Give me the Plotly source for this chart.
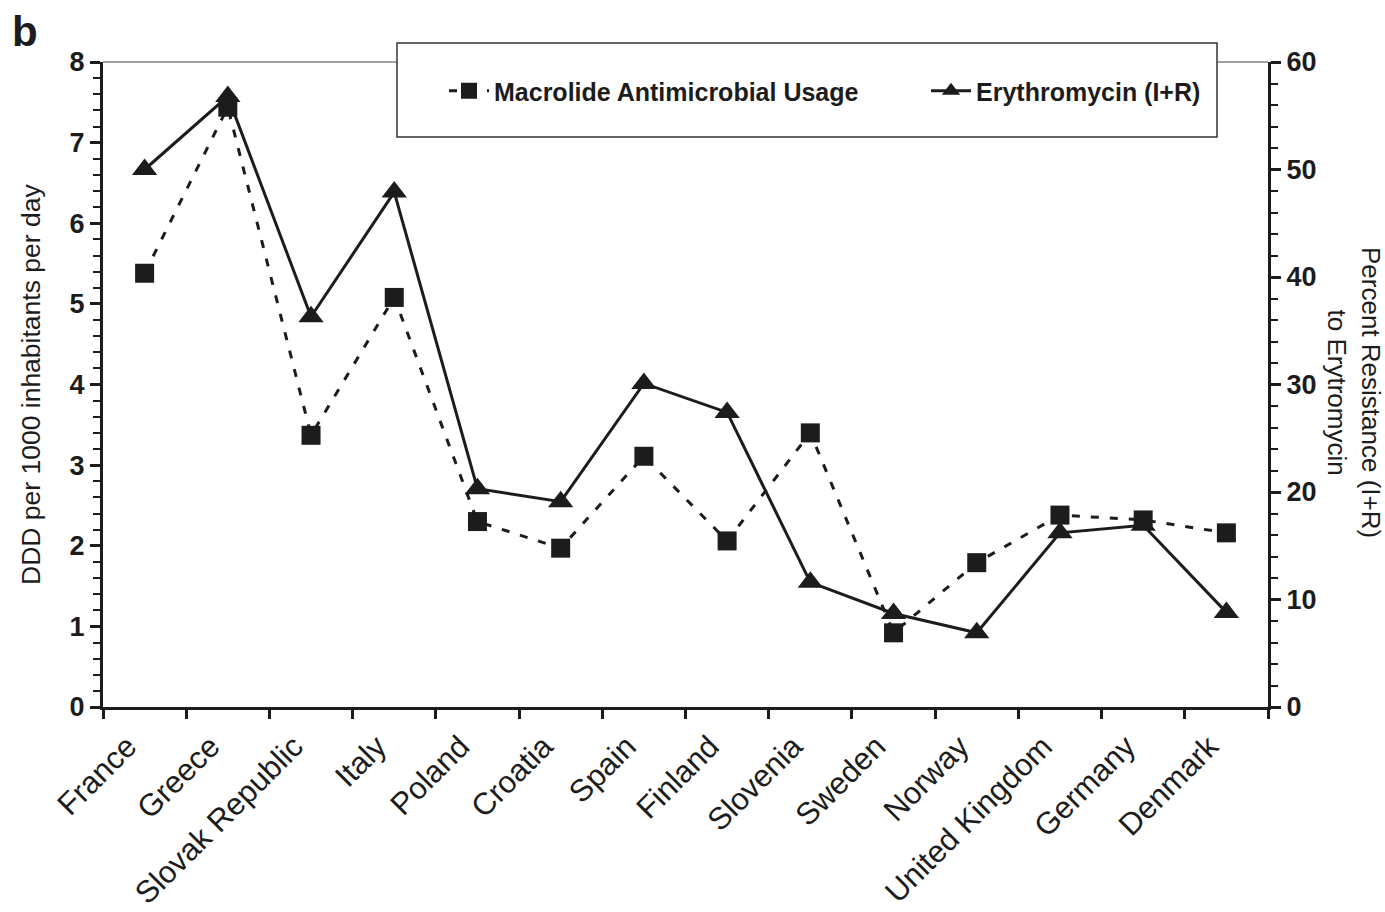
import plotly.graph_objects as go

countries = ["France", "Greece", "Slovak Republic", "Italy", "Poland", "Croatia", "Spain",
             "Finland", "Slovenia", "Sweden", "Norway", "United Kingdom", "Germany", "Denmark"]
macrolide_ddd = [5.38, 7.44, 3.37, 5.08, 2.30, 1.97, 3.11, 2.06, 3.40, 0.92, 1.79, 2.38, 2.32, 2.16]
erythro_resist = [50.0, 56.8, 36.3, 47.9, 20.3, 19.1, 30.1, 27.4, 11.6, 8.7, 6.9, 16.2, 16.9, 8.8]
left_ticks = [0, 1, 2, 3, 4, 5, 6, 7, 8]
right_ticks = [0, 10, 20, 30, 40, 50, 60]

INK = "#1c1c1c"
FONT = "Liberation Sans, Arial, Helvetica, sans-serif"

# plot area in pixels (from reference)
PL, PR, PT, PB = 103, 1268, 62, 707
PW, PH = PR - PL, PB - PT


def px_x(x):
    return (x - PL) / PW


def px_y(y):
    return (PB - y) / PH


fig = go.Figure()
fig.add_trace(go.Scatter(
    x=countries, y=macrolide_ddd, name="Macrolide Antimicrobial Usage",
    mode="lines+markers", yaxis="y", legend="legend",
    line=dict(color=INK, width=3, dash="8px,11px"),
    marker=dict(symbol="square", size=19, color=INK),
))
fig.add_trace(go.Scatter(
    x=countries, y=erythro_resist, name="Erythromycin (I+R)",
    mode="lines+markers", yaxis="y2", legend="legend2",
    line=dict(color=INK, width=3),
    marker=dict(symbol="triangle-up", size=22, color=INK),
))

n = len(countries)
bounds = [i - 0.5 for i in range(n + 1)]

legend_common = dict(
    orientation="h", yanchor="middle", xanchor="left",
    bgcolor="rgba(0,0,0,0)", borderwidth=0,
    font=dict(size=25, family=FONT, color=INK, weight="bold"),
    itemwidth=40,
)

fig.update_layout(
    width=1385, height=912,
    margin=dict(l=PL, r=1385 - PR, t=PT, b=912 - PB, autoexpand=False),
    paper_bgcolor="white", plot_bgcolor="white",
    font=dict(family=FONT, color=INK),
    showlegend=True,
    legend=dict(x=px_x(444), y=px_y(91), **legend_common),
    legend2=dict(x=px_x(926), y=px_y(91), **legend_common),
    xaxis=dict(
        type="category", categoryarray=countries, range=[-0.5, n - 0.5],
        showline=True, linewidth=3, linecolor=INK,
        ticks="outside", tickson="boundaries", ticklen=9, tickwidth=3, tickcolor=INK,
        tickangle=-45, tickfont=dict(size=31, family=FONT, color=INK),
        ticklabelstandoff=6, ticklabelshift=-17,
        showgrid=False, zeroline=False, fixedrange=True, automargin=False,
    ),
    xaxis2=dict(
        type="linear", overlaying="x", anchor="y", side="bottom",
        range=[-0.5, n - 0.5], tickmode="array", tickvals=bounds,
        ticks="inside", ticklen=9, tickwidth=3, tickcolor=INK,
        showticklabels=False, showline=False, showgrid=False, zeroline=False,
    ),
    yaxis=dict(
        range=[0, 8], tickmode="array", tickvals=left_ticks,
        showline=True, linewidth=3, linecolor=INK,
        ticks="outside", ticklen=10, tickwidth=3, tickcolor=INK,
        minor=dict(dtick=0.2, ticks="outside", ticklen=7, tickwidth=2, tickcolor=INK, showgrid=False),
        tickfont=dict(size=27, family=FONT, color=INK, weight="bold"),
        showgrid=False, zeroline=False, automargin=False,
    ),
    yaxis3=dict(
        overlaying="y", anchor="x", side="left", range=[0, 8],
        tickmode="array", tickvals=left_ticks,
        ticks="inside", ticklen=10, tickwidth=3, tickcolor=INK,
        showticklabels=False, showline=False, showgrid=False, zeroline=False,
    ),
    yaxis2=dict(
        overlaying="y", anchor="x", side="right", range=[0, 60],
        tickmode="array", tickvals=right_ticks,
        showline=True, linewidth=3, linecolor=INK,
        ticks="outside", ticklen=10, tickwidth=3, tickcolor=INK,
        minor=dict(dtick=2, ticks="outside", ticklen=7, tickwidth=2, tickcolor=INK, showgrid=False),
        tickfont=dict(size=27, family=FONT, color=INK, weight="bold"),
        showgrid=False, zeroline=False, automargin=False,
    ),
    yaxis4=dict(
        overlaying="y", anchor="x", side="right", range=[0, 60],
        tickmode="array", tickvals=right_ticks,
        ticks="inside", ticklen=10, tickwidth=3, tickcolor=INK,
        showticklabels=False, showline=False, showgrid=False, zeroline=False,
    ),
    shapes=[
        dict(type="line", xref="paper", yref="paper", x0=0, x1=1, y0=1, y1=1,
             line=dict(color="#444", width=1), layer="above"),
        dict(type="rect", xref="paper", yref="paper",
             x0=px_x(397), x1=px_x(1217), y0=px_y(137), y1=px_y(43),
             line=dict(color="#333", width=1.5), fillcolor="white", layer="above"),
    ],
    annotations=[
        dict(text="<b>b</b>", xref="paper", yref="paper", x=px_x(10), y=px_y(6),
             xanchor="left", yanchor="top", showarrow=False,
             font=dict(size=42, family=FONT, color=INK)),
        dict(text="DDD per 1000 inhabitants per day", xref="paper", yref="paper",
             x=px_x(31), y=px_y(385), xanchor="center", yanchor="middle", textangle=-90,
             showarrow=False, font=dict(size=26.5, family=FONT, color=INK)),
        dict(text="Percent Resistance (I+R)<br>to Erytromycin", xref="paper", yref="paper",
             x=px_x(1354), y=px_y(392), xanchor="center", yanchor="middle", textangle=90,
             showarrow=False, font=dict(size=26, family=FONT, color=INK)),
    ],
)

fig.write_html("out.html")
